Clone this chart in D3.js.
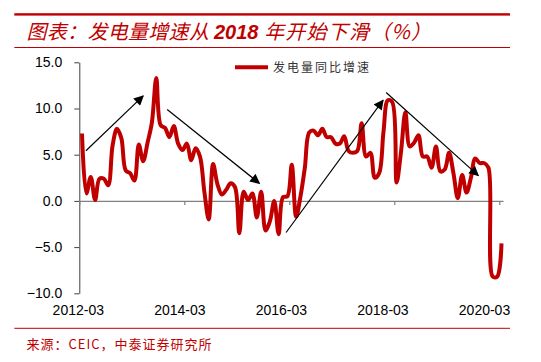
<!DOCTYPE html>
<html><head><meta charset="utf-8">
<script src="https://cdn.jsdelivr.net/npm/d3@7"></script>
<style>
html,body{margin:0;padding:0;background:#fff;}
svg{display:block;}
</style></head>
<body><svg id="c" width="541" height="362"></svg>
<script>
// ---- data ----
const startMonth = new Date(2012, 2, 1);
const months = d3.timeMonth.range(startMonth, new Date(2020, 3, 1)).map(d3.timeFormat("%Y-%m"));
const genGrowth = [
  7.3, 0.8, 2.6, 0.1, 2.4, 2.4, 1.7, 6.0, 7.8, 6.8,
  3.3, 3.0, 2.2, 6.1, 4.3, 6.3, 8.5, 13.3, 8.2, 7.9,
  6.9, 8.1, 6.2, 5.5, 6.2, 4.4, 5.7, 4.8, 1.0, -2.0,
  4.0, 1.8, 0.7, 1.2, 1.9, 1.5, -3.5, 1.0, 0.1, 0.8,
  -1.8, 1.0, -3.2, -2.2, 0.0, -3.6, 0.4, 0.5, 3.9, -1.7,
  0.5, 3.6, 7.4, 7.6, 7.1, 7.8, 6.9, 6.9, 6.2, 6.2,
  7.0, 5.4, 5.2, 5.4, 8.4, 4.8, 5.2, 2.5, 3.0, 7.5,
  10.9, 10.7, 2.0, 5.3, 9.6, 5.9, 6.3, 7.1, 4.8, 4.8,
  3.6, 5.9, 3.2, 3.4, 5.2, 3.0, 0.3, 2.8, 0.9, 2.5,
  4.6, 4.1, 4.1, 3.6, -8.2, -8.2, -4.6
];
const xTickLabels = ["2012-03", "2014-03", "2016-03", "2018-03", "2020-03"];
const yTicks = [-10, -5, 0, 5, 10, 15];
const seriesName = "发电量同比增速";
const titleParts = ["图表：发电量增速从 ", "2018", " 年开始下滑（%）"];
const sourceText = "来源：CEIC，中泰证券研究所";
// trend arrows in data space: [monthIndex, value] -> [monthIndex, value]
const arrows = [
  [[0.9, 5.43], [14.0, 11.36]],
  [[19.5, 9.9], [40.6, 1.9]],
  [[46.7, -3.42], [68.9, 10.9]],
  [[69.6, 11.73], [90.7, 2.73]]
];

// ---- drawing ----
const red = "#C00000";
const svg = d3.select("#c");
const x = d3.scaleLinear().domain([0, 96]).range([82, 501.5]);
const xAx = d3.scaleLinear().domain([0, 96.85]).range([79.3, 503]);
const xLab = d3.scalePoint().domain(xTickLabels).range([77.8, 484]);
const y = d3.scaleLinear().domain([-10, 15]).range([293.3, 62.3]);

// header/footer rules
svg.append("rect").attr("x", 14.3).attr("y", 13.2).attr("width", 495.7).attr("height", 2.4).attr("fill", red);
svg.append("rect").attr("x", 14.3).attr("y", 47).attr("width", 495.7).attr("height", 1).attr("fill", red);
svg.append("rect").attr("x", 14.3).attr("y", 327.8).attr("width", 495.7).attr("height", 1).attr("fill", red);

const title = svg.append("text").attr("x", 26.5).attr("y", 38.5)
  .attr("fill", red).attr("font-size", 20).attr("font-style", "italic")
  .attr("font-family", "'Noto Sans CJK SC', sans-serif");
title.append("tspan").attr("letter-spacing", 0.3).text(titleParts[0]);
title.append("tspan").attr("font-family", "'Liberation Sans', Arial, sans-serif").attr("font-weight", "bold").text(titleParts[1]);
title.append("tspan").attr("letter-spacing", 1.2).text(titleParts[2]);

svg.append("text").attr("x", 26.5).attr("y", 348.5).attr("fill", red)
  .attr("font-size", 13).attr("letter-spacing", 1)
  .attr("font-family", "'Noto Sans CJK SC', monospace").text(sourceText);

// y axis
const yAxis = svg.append("g").attr("transform", "translate(79.3,0)")
  .call(d3.axisLeft(y).tickValues(yTicks).tickFormat(d3.format(".1f")).tickSize(5).tickSizeOuter(0).tickPadding(12));
yAxis.selectAll("path,line").attr("stroke", "#404040");
yAxis.selectAll("text").attr("font-size", 14).attr("font-family", "'Liberation Sans', Arial, sans-serif").attr("fill", "#000");

// x axis at zero (ticks only)
const xAxis = svg.append("g").attr("transform", `translate(0,${y(0)})`)
  .call(d3.axisBottom(xAx).tickValues([0, 24, 48, 72, 96]).tickFormat("").tickSizeInner(4).tickSizeOuter(0));
xAxis.selectAll("path,line").attr("stroke", "#808080").attr("stroke-width", 1.2);

// x labels
const xLabAxis = svg.append("g").attr("transform", "translate(0,305)")
  .call(d3.axisBottom(xLab).tickSize(0).tickPadding(0));
xLabAxis.select(".domain").remove();
xLabAxis.selectAll("text").attr("font-size", 14).attr("font-family", "'Liberation Sans', Arial, sans-serif").attr("fill", "#000");

// series line
const line = d3.line().x((d, i) => x(i)).y(d => y(d)).curve(d3.curveCatmullRom.alpha(0.5));
svg.append("path").datum(genGrowth).attr("d", line).attr("fill", "none")
  .attr("stroke", red).attr("stroke-width", 4).attr("stroke-linejoin", "round");

// arrows
svg.append("defs").append("marker").attr("id", "ah").attr("viewBox", "0 0 10 10")
  .attr("refX", 9).attr("refY", 5).attr("markerWidth", 11).attr("markerHeight", 10)
  .attr("markerUnits", "userSpaceOnUse").attr("orient", "auto")
  .append("path").attr("d", "M0,0 L10,5 L0,10 Z").attr("fill", "#000");
svg.selectAll(".arrow").data(arrows).join("line").attr("class", "arrow")
  .attr("x1", d => x(d[0][0])).attr("y1", d => y(d[0][1]))
  .attr("x2", d => x(d[1][0])).attr("y2", d => y(d[1][1]))
  .attr("stroke", "#000").attr("stroke-width", 1.2).attr("marker-end", "url(#ah)");

// legend
svg.append("line").attr("x1", 235).attr("x2", 268).attr("y1", 67.3).attr("y2", 67.3)
  .attr("stroke", red).attr("stroke-width", 4);
svg.append("text").attr("x", 273).attr("y", 71.5).attr("font-size", 12).attr("letter-spacing", 2)
  .attr("fill", "#333").attr("font-family", "'Noto Sans CJK SC', sans-serif").text(seriesName);
</script></body></html>
